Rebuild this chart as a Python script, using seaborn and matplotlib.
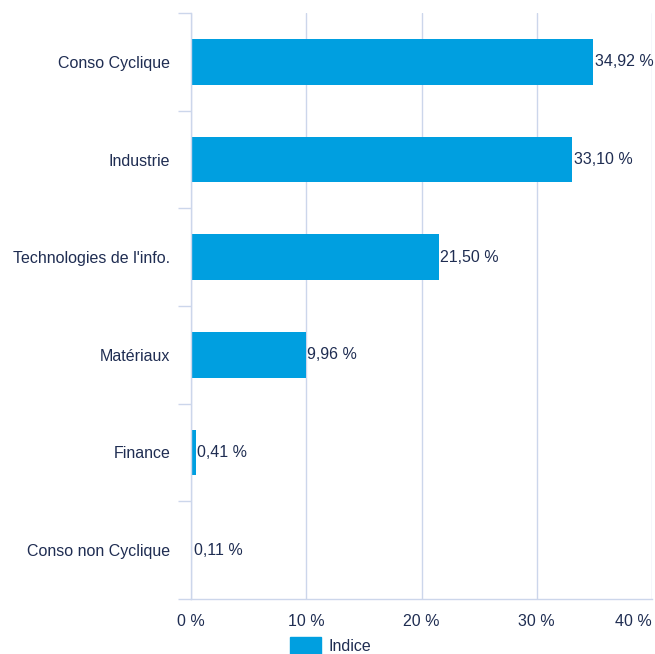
import pandas as pd
import matplotlib
matplotlib.use("Agg")
import matplotlib.pyplot as plt
import seaborn as sns

# chart data
categories = ["Conso Cyclique", "Industrie", "Technologies de l'info.",
              "Matériaux", "Finance", "Conso non Cyclique"]
values = [34.92, 33.10, 21.50, 9.96, 0.41, 0.11]
value_labels = ["34,92 %", "33,10 %", "21,50 %", "9,96 %", "0,41 %", "0,11 %"]
x_ticks = [0, 10, 20, 30, 40]
x_tick_labels = ["0 %", "10 %", "20 %", "30 %", "40 %"]
series_name = "Indice"

bar_color = "#009fe0"
text_color = "#1f2d52"
grid_color = "#ccd6eb"
fs = 11.5

sns.set_style("white")
plt.rcParams["font.family"] = ["Liberation Sans", "DejaVu Sans"]

df = pd.DataFrame({"Secteur": categories, "Poids": values})

fig = plt.figure(figsize=(6.55, 6.54), dpi=100)
ax = fig.add_axes([191 / 655, 55 / 654, 461 / 655, 586 / 654])

sns.barplot(data=df, x="Poids", y="Secteur", orient="h", color=bar_color,
            width=0.47, saturation=1, linewidth=0, label=series_name, ax=ax, zorder=3)

# value labels next to the bars
ax.bar_label(ax.containers[0], labels=value_labels, padding=1,
             fontsize=fs, color=text_color)

ax.set_xlim(0, 40)
ax.set_ylim(len(categories) - 0.5, -0.5)
ax.set_xticks(x_ticks)
ax.set_xticklabels(x_tick_labels)
ax.set_xlabel("")
ax.set_ylabel("")

# grid and axes styling
ax.grid(axis="x", color=grid_color, linewidth=1, zorder=0)
ax.grid(axis="y", visible=False)
for side in ["top", "right"]:
    ax.spines[side].set_visible(False)
for side in ["left", "bottom"]:
    ax.spines[side].set_color(grid_color)
    ax.spines[side].set_linewidth(1)
    ax.spines[side].set_zorder(4)

# category separators as ticks on the y axis
ax.set_yticks([i - 0.5 for i in range(len(categories) + 1)], minor=True)
ax.tick_params(axis="y", which="minor", length=9.5, width=1, color=grid_color, left=True)
ax.tick_params(axis="y", which="major", length=0, pad=15, labelsize=fs, labelcolor=text_color)
ax.tick_params(axis="x", which="major", length=0, pad=11, labelsize=fs, labelcolor=text_color)
xl = ax.get_xticklabels()
xl[-1].set_horizontalalignment("right")

if ax.legend_:
    ax.legend_.remove()
fig.legend(handles=[plt.Rectangle((0, 0), 1, 1, color=bar_color)], labels=[series_name],
           loc="lower center", bbox_to_anchor=(0.505, -0.022), frameon=False,
           fontsize=fs, handlelength=1.9, handleheight=1.3, handletextpad=0.5,
           labelcolor=text_color)

fig.savefig("out.png", dpi=100)
